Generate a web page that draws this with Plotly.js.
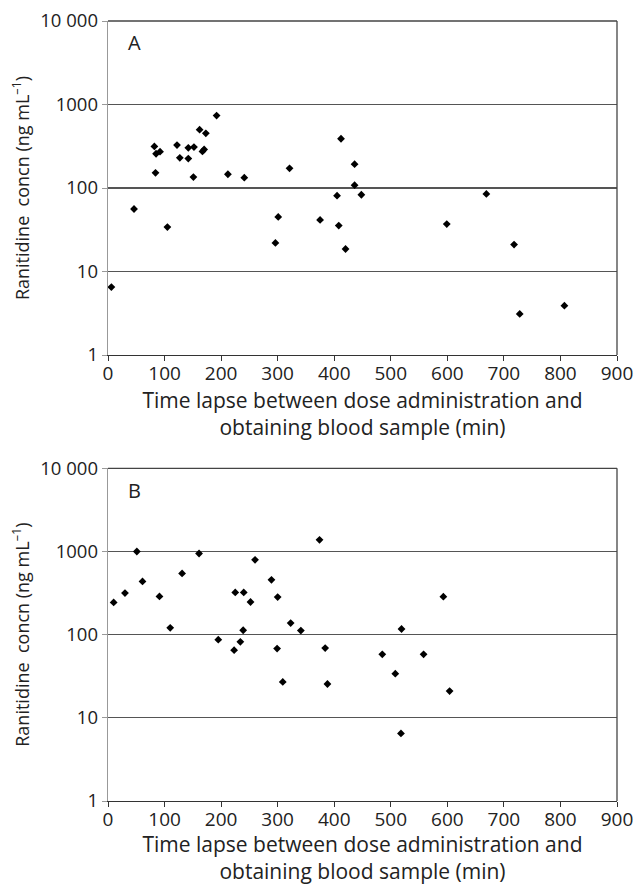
<!DOCTYPE html>
<html>
<head>
<meta charset="utf-8">
<script src="https://cdn.plot.ly/plotly-3.0.1.min.js"></script>
<style>html,body{margin:0;padding:0;background:#fff;}#chart{width:636px;height:885px;}</style>
</head>
<body>
<div id="chart"></div>
<script>
// Panel A data (time in min, concentration in ng/mL)
const timeA = [6, 46, 82, 85, 92, 84, 105, 122, 127, 142, 142, 152, 151, 162, 173, 167, 170, 192, 212, 241, 296, 301, 321, 375, 405, 412, 408, 420, 436, 436, 448, 599, 669, 718, 728, 807];
const concA = [6.5, 56, 315, 257, 272, 152, 34, 327, 230, 303, 225, 309, 135, 500, 452, 274, 290, 736, 146, 133, 22, 45, 172, 41.5, 81, 389, 35.5, 18.6, 193, 108, 83, 37, 85, 21, 3.1, 3.9];

// Panel B data
const timeB = [10, 30, 51, 61, 91, 110, 131, 161, 225, 240, 252, 260, 239, 289, 300, 323, 341, 374, 195, 223, 234, 299, 309, 384, 388, 485, 508, 593, 519, 558, 604, 518];
const concB = [244, 316, 1000, 437, 288, 121, 545, 946, 322, 322, 247, 794, 113, 457, 283, 138, 112, 1380, 87, 65, 82, 68, 27, 69, 25.5, 58, 34, 286, 117, 58, 21, 6.5];

const xTicks = [0, 100, 200, 300, 400, 500, 600, 700, 800, 900];
const yTickVals = [1, 10, 100, 1000, 10000];
const yTickText = ['1', '10', '100', '1000', '10 000'];
const panelLabels = ['A', 'B'];

const FONT = 'Open Sans, Noto Sans, sans-serif';
const marker = {symbol: 'diamond', size: 6, color: '#000'};

const traces = [
  {x: timeA, y: concA, type: 'scatter', mode: 'markers', marker: marker, xaxis: 'x', yaxis: 'y', hoverinfo: 'x+y'},
  {x: timeB, y: concB, type: 'scatter', mode: 'markers', marker: marker, xaxis: 'x2', yaxis: 'y2', hoverinfo: 'x+y'}
];

const xTitle = 'Time lapse between dose administration and<br>obtaining blood sample (min)';
const yTitle = 'Ranitidine  concn (ng mL<sup>–1</sup>)';

function xAxis(anchor) {
  return {
    anchor: anchor, domain: [0, 1], range: [0, 900],
    tickvals: xTicks, ticks: 'outside', ticklen: 5, tickcolor: '#333',
    ticklabelstandoff: -4,
    showline: true, linecolor: '#333', linewidth: 1.3, mirror: false,
    showgrid: false, zeroline: false,
    tickfont: {family: FONT, size: 19, color: '#222'},
    title: {text: xTitle, font: {family: FONT, size: 21, color: '#222'}, standoff: 7}
  };
}
function yAxis(anchor, domain) {
  return {
    anchor: anchor, domain: domain, type: 'log', range: [0, 4],
    tickvals: yTickVals, ticktext: yTickText, ticks: 'outside', ticklen: 5, tickcolor: '#999',
    showline: true, linecolor: '#999', linewidth: 1.3,
    showgrid: true, gridcolor: '#555', gridwidth: 1.2, zeroline: false,
    tickfont: {family: FONT, size: 18.5, color: '#222'},
    title: {text: yTitle, font: {family: FONT, size: 18, color: '#222'}, standoff: 6}
  };
}

const layout = {
  width: 636, height: 885,
  margin: {l: 108, r: 19, t: 21, b: 84},
  paper_bgcolor: '#fff', plot_bgcolor: '#fff',
  showlegend: false,
  xaxis: xAxis('y'),
  yaxis: yAxis('x', [0.5718, 1]),
  xaxis2: xAxis('y2'),
  yaxis2: yAxis('x2', [0, 0.4265]),
  shapes: [
    {type: 'line', xref: 'x domain', yref: 'y domain', x0: 1, x1: 1, y0: 0, y1: 1, line: {color: '#444', width: 1.3}},
    {type: 'line', xref: 'x domain', yref: 'y domain', x0: 0, x1: 1, y0: 1, y1: 1, line: {color: '#444', width: 1.3}},
    {type: 'line', xref: 'x2 domain', yref: 'y2 domain', x0: 1, x1: 1, y0: 0, y1: 1, line: {color: '#444', width: 1.3}},
    {type: 'line', xref: 'x2 domain', yref: 'y2 domain', x0: 0, x1: 1, y0: 1, y1: 1, line: {color: '#444', width: 1.3}}
  ],
  annotations: [
    {text: panelLabels[0], xref: 'x domain', yref: 'y domain', x: 0.035, y: 0.937, xanchor: 'left', yanchor: 'middle', showarrow: false, font: {family: FONT, size: 20, color: '#222'}},
    {text: panelLabels[1], xref: 'x2 domain', yref: 'y2 domain', x: 0.035, y: 0.934, xanchor: 'left', yanchor: 'middle', showarrow: false, font: {family: FONT, size: 20, color: '#222'}}
  ]
};

Plotly.newPlot('chart', traces, layout, {displayModeBar: false, staticPlot: true});
</script>
</body>
</html>
